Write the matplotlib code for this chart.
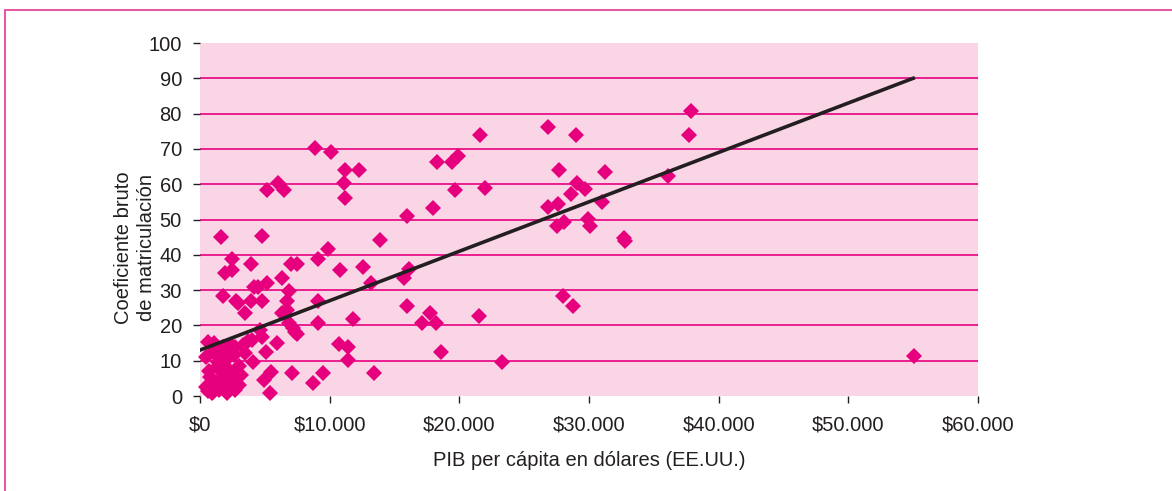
import numpy as np
import matplotlib
matplotlib.use("Agg")
import matplotlib.pyplot as plt
from matplotlib.patches import Rectangle

plt.rcParams['font.family'] = ['Liberation Sans', 'DejaVu Sans']

# PIB per capita (dolares) y coeficiente bruto de matriculacion
pib = [8900, 10100, 11200, 12300, 11100, 11200, 5200, 6000, 6500, 1600,
       4800, 13900, 16000, 18000, 18300, 2500, 1900, 2500, 3900, 7000,
       7500, 9100, 9900, 10800, 12600, 21600, 26800, 29000, 19400, 19900,
       19700, 22000, 27700, 31200, 29100, 29700, 28600, 31000, 26800, 27600,
       27500, 28100, 29900, 30100, 32700, 32800, 13200, 15700, 16100, 16000,
       17700, 17100, 18200, 21500, 18600, 23300, 13400, 28000, 28800, 37900,
       37700, 36100, 55100, 6300, 5200, 4500, 4200, 6900, 1800, 2800,
       3900, 4800, 6700, 6700, 6500, 6300, 9100, 6900, 7500, 9100,
       11800, 4600, 1100, 500, 1800, 2700, 3300, 4000, 4800, 5900,
       5100, 4100, 3500, 1800, 2600, 10700, 11400, 11400, 7100, 9500,
       8700, 5400, 5500, 4900, 3200, 3000, 1800, 1300, 500, 900,
       1500, 2100, 2300, 1200, 1800, 2700, 800, 600, 1400, 2100,
       3500, 7300, 7200, 2200, 1000, 2900, 1000, 1700, 2500, 600,
       1400, 3000, 2000, 1000, 2400, 3700, 700, 1900, 2600, 1500]
matric = [70.2, 69.1, 64.0, 64.0, 60.3, 56.1, 58.4, 60.3, 58.4, 45.1,
          45.3, 44.2, 51.0, 53.3, 66.2, 38.7, 34.8, 35.7, 37.4, 37.4,
          37.4, 38.7, 41.6, 35.7, 36.5, 73.9, 76.3, 74.0, 66.2, 68.0,
          58.4, 58.9, 64.0, 63.5, 60.2, 58.6, 57.2, 55.0, 53.4, 54.4,
          48.2, 49.4, 50.2, 48.2, 44.8, 43.8, 31.9, 33.3, 36.0, 25.6,
          23.4, 20.6, 20.6, 22.7, 12.6, 9.7, 6.4, 28.4, 25.6, 80.7,
          74.0, 62.3, 11.4, 33.3, 32.1, 30.8, 30.8, 29.7, 28.3, 26.8,
          26.8, 26.8, 26.9, 24.5, 23.4, 23.4, 26.9, 20.8, 17.7, 20.6,
          21.7, 18.7, 15.1, 11.1, 14.0, 14.0, 14.4, 15.9, 16.8, 14.9,
          12.5, 9.7, 12.1, 11.1, 11.6, 14.7, 14.0, 10.2, 6.4, 6.4,
          3.6, 0.8, 6.9, 4.5, 5.9, 3.1, 6.4, 8.3, 2.6, 0.8,
          1.7, 0.8, 4.5, 4.1, 3.1, 1.7, 5.5, 15.4, 13.0, 12.1,
          23.4, 18.2, 19.2, 7.4, 1.2, 26.3, 3.0, 4.8, 2.8, 1.3,
          9.5, 8.5, 13.5, 12.5, 14.5, 15.5, 7.0, 10.0, 6.5, 2.2]

# linea de tendencia
trend_x = [0, 55000]
trend_y = [13, 90]

xticks = [0, 10000, 20000, 30000, 40000, 50000, 60000]
xticklabels = ['$0', '$10.000', '$20.000', '$30.000', '$40.000', '$50.000', '$60.000']
yticks = list(range(0, 101, 10))

magenta = '#E6007E'
dark = '#231F20'

fig = plt.figure(figsize=(11.72, 4.91), dpi=100)
ax = fig.add_axes([200 / 1172, 1 - 396 / 491, 778 / 1172, 353 / 491])
ax.set_facecolor('#F9D5E5')

for y in range(10, 100, 10):
    ax.axhline(y, color=magenta, lw=1.2, zorder=1)

ax.plot(pib, matric, linestyle='none', marker='D', ms=8.6, color=magenta,
        markeredgewidth=0, zorder=3, clip_on=False)
ax.plot(trend_x, trend_y, color=dark, lw=2.6, zorder=4)

ax.set_xlim(0, 60000)
ax.set_ylim(0, 100)
for s in ax.spines.values():
    s.set_visible(False)

ax.set_xticks(xticks)
ax.set_xticklabels(xticklabels)
ax.set_yticks(yticks)
ax.tick_params(axis='both', colors=dark, labelsize=14.5, length=5, width=1)
ax.tick_params(axis='x', pad=9)
ax.tick_params(axis='y', pad=8)

ax.set_xlabel('PIB per cápita en dólares (EE.UU.)', fontsize=14.5, color=dark, labelpad=12)
ax.set_ylabel('Coeficiente bruto\nde matriculación', fontsize=14.5, color=dark, linespacing=1.25)
ax.yaxis.set_label_coords(-0.057, 0.42)

# marco exterior
fig.patches.append(Rectangle((5 / 1172, -0.2), 1.1, 1.2 - 10 / 491,
                             transform=fig.transFigure, fill=False,
                             edgecolor='#E8479A', lw=1.3))

fig.savefig('out.png', dpi=100)
